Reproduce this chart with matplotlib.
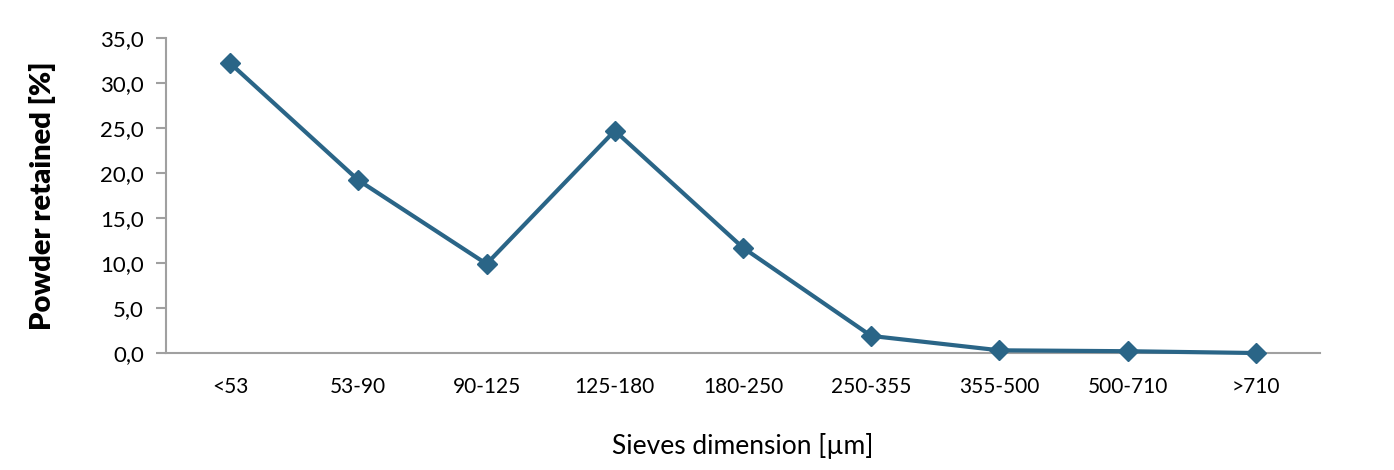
import matplotlib.pyplot as plt
import numpy as np

# Sieve fractions and retained powder
sieves = ['<53', '53-90', '90-125', '125-180', '180-250', '250-355', '355-500', '500-710', '>710']
retained = [32.2, 19.2, 9.9, 24.7, 11.7, 1.9, 0.3, 0.2, 0.0]

plt.rcParams['font.family'] = ['Lato', 'DejaVu Sans']

fig = plt.figure(figsize=(13.94, 4.7), dpi=100)
ax = fig.add_axes([0.1191, 0.2489, 0.8278, 0.6702])

x = np.arange(len(sieves))
ax.plot(x, retained, color='#2a6587', linewidth=3, marker='D', markersize=10,
        clip_on=False, zorder=3)

ax.set_xlim(-0.5, len(sieves) - 0.5)
ax.set_ylim(0, 35)
ax.set_yticks(np.arange(0, 36, 5))
ax.set_yticklabels([f'{v:.1f}'.replace('.', ',') for v in np.arange(0, 36, 5)])
ax.set_xticks(x)
ax.set_xticklabels(sieves)

for side in ['top', 'right']:
    ax.spines[side].set_visible(False)
for side in ['left', 'bottom']:
    ax.spines[side].set_color('#a0a0a0')
    ax.spines[side].set_linewidth(1.5)

ax.tick_params(axis='y', length=7, width=1.5, color='#a0a0a0', labelsize=16, pad=9)
ax.tick_params(axis='x', length=0, labelsize=15, pad=17)

ax.set_xlabel('Sieves dimension [µm]', fontsize=19, labelpad=26)
ax.set_ylabel('Powder retained [%]', fontsize=21, fontweight='heavy', labelpad=32)

fig.savefig('out.png')
